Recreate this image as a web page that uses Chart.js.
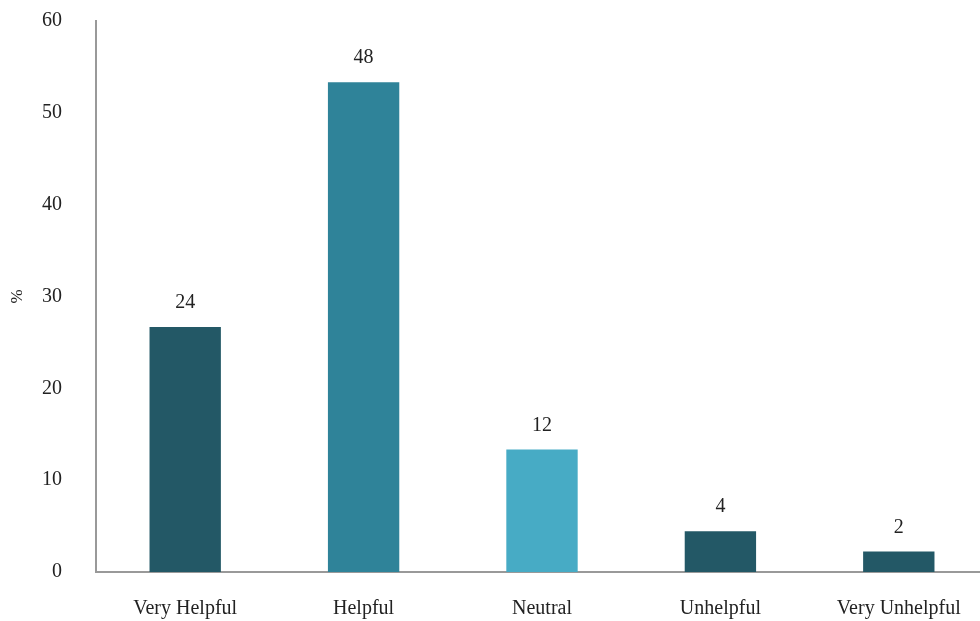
<!DOCTYPE html>
<html>
<head>
<meta charset="utf-8">
<script src="https://cdn.jsdelivr.net/npm/chart.js@4/dist/chart.umd.min.js"></script>
<style>
  html, body { margin: 0; padding: 0; background: #fff; overflow: hidden; }
  #wrap { width: 988px; height: 621px; }
</style>
</head>
<body>
<div id="wrap"><canvas id="bar-chart"></canvas></div>
<script>
// responses per answer, bars show the share of all responses
const categories = ["Very Helpful", "Helpful", "Neutral", "Unhelpful", "Very Unhelpful"];
const counts = [24, 48, 12, 4, 2];
const barColors = ["#235866", "#2f8399", "#47abc5", "#235866", "#235866"];
const yTicks = [0, 10, 20, 30, 40, 50, 60];

const total = counts.reduce((a, b) => a + b, 0);
const shares = counts.map(c => c / total * 100);

const serif = "'Liberation Serif', 'Times New Roman', serif";

// count written above each bar
const countLabels = {
  id: "countLabels",
  afterDatasetsDraw(chart) {
    const ctx = chart.ctx;
    const meta = chart.getDatasetMeta(0);
    ctx.save();
    ctx.font = "20px " + serif;
    ctx.fillStyle = "#222";
    ctx.textAlign = "center";
    ctx.textBaseline = "bottom";
    meta.data.forEach((bar, i) => {
      ctx.fillText(String(counts[i]), bar.x, bar.y - 14);
    });
    ctx.restore();
  }
};

new Chart(document.getElementById("bar-chart"), {
  type: "bar",
  data: {
    labels: categories,
    datasets: [{
      data: shares,
      backgroundColor: barColors,
      barPercentage: 0.8,
      categoryPercentage: 0.5
    }]
  },
  options: {
    responsive: true,
    maintainAspectRatio: false,
    animation: false,
    layout: { padding: { top: 21, left: 0, right: 0, bottom: 0 } },
    plugins: {
      legend: { display: false },
      tooltip: { enabled: false }
    },
    scales: {
      x: {
        grid: { display: false, drawTicks: false },
        border: { display: true, color: "#999", width: 2 },
        ticks: {
          color: "#222",
          font: { family: serif, size: 20 },
          padding: 25
        },
        afterFit(axis) { axis.height = 49; }
      },
      y: {
        min: 0,
        max: 60,
        afterBuildTicks(axis) { axis.ticks = yTicks.map(v => ({ value: v })); },
        grid: { display: false, drawTicks: false },
        border: { display: true, color: "#999", width: 2 },
        ticks: {
          color: "#222",
          font: { family: serif, size: 20 },
          padding: 34
        },
        title: {
          display: true,
          text: "%",
          color: "#222",
          font: { family: serif, size: 17 },
          padding: { top: 7, bottom: 0 }
        },
        afterFit(axis) {
          axis.width = 96;
          axis.paddingTop = 0;
          axis.paddingBottom = 0;
        }
      }
    }
  },
  plugins: [countLabels]
});
</script>
</body>
</html>
